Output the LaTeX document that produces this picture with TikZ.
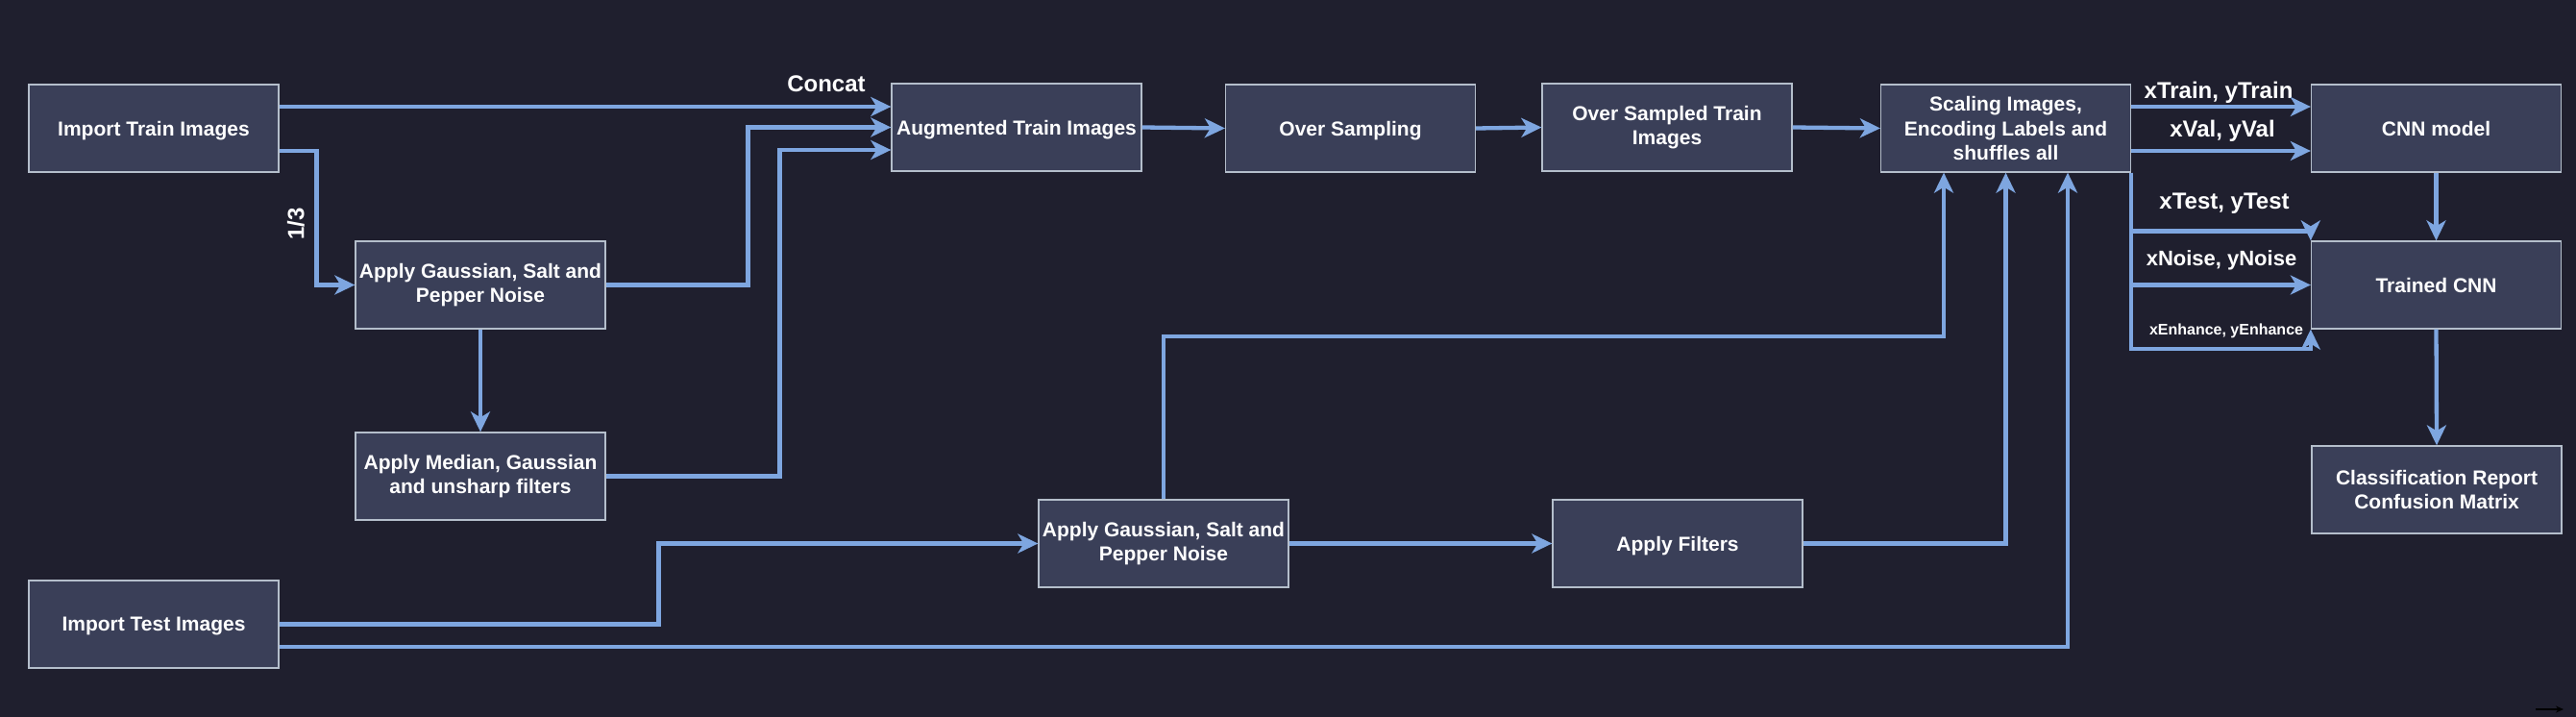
\documentclass[tikz,border=0pt]{standalone}
\usepackage{fontspec}
\setmainfont{Liberation Sans}
\usepackage{xcolor}
\definecolor{DiagBack}{HTML}{1F1F2E}
\definecolor{BoxFill}{HTML}{3A3F58}
\definecolor{BoxLine}{HTML}{B4BECB}
\definecolor{FlowBlue}{HTML}{7EA6E0}
\usepackage{tikz}
\usetikzlibrary{calc}
\usetikzlibrary{arrows.meta}

\begin{document}
\begin{tikzpicture}[x=1pt,y=-1pt,
	box/.style={draw=BoxLine, fill=BoxFill, line width=1.3pt, minimum width=260pt, minimum height=91pt, inner sep=0pt, align=center, text=white, font=\fontsize{21}{25.5}\selectfont\bfseries},
	flat/.style={text depth=0pt},
	flow/.style={draw=FlowBlue, line width=4.3pt, -{Stealth[length=21pt,width=20pt,inset=6pt]}},
	lbl/.style={text=white, inner sep=0pt, font=\fontsize{24}{28}\selectfont\bfseries}]
		\def\W{2681} % page width
		\def\H{746}  % page height
		\def\up{22.5}
		\def\dn{23.5}
		
		\fill[DiagBack] (0,0) rectangle (\W,\H);
		\useasboundingbox (0,0) rectangle (\W,\H);
		
		% train branch
		\node[box,flat] (train) at (160,133.5) {Import Train Images};
		\node[box] (noiseA) at (500,296.5) {Apply Gaussian, Salt and\\Pepper Noise};
		\node[box] (median) at (500,495.5) {Apply Median, Gaussian\\and unsharp filters};
		\node[box,flat] (aug) at (1058,132.5) {Augmented Train Images};
		\node[box,flat] (over) at (1405.5,133.5) {Over Sampling};
		\node[box] (overtrain) at (1735,132.5) {Over Sampled Train\\Images};
		\node[box] (scale) at (2087.5,133.5) {Scaling Images,\\Encoding Labels and\\shuffles all};
		
		% test branch
		\node[box,flat] (test) at (160,649.5) {Import Test Images};
		\node[box] (noiseB) at (1211,565.5) {Apply Gaussian, Salt and\\Pepper Noise};
		\node[box,flat] (filters) at (1746,565.5) {Apply Filters};
		
		% model
		\node[box] (cnn) at (2535.5,133.5) {CNN model};
		\node[box] (trained) at (2535.5,296.5) {Trained CNN};
		\node[box] (report) at (2536,509.5) {Classification Report\\Confusion Matrix};
		
		\node[lbl] (lblConcat) at (860,87) {Concat};
		\node[lbl, rotate=90] (lblThird) at (308,233) {1/3};
		\node[lbl] (lblTrain) at (2309,96) {xTrain, yTrain};
		\node[lbl] (lblVal) at (2313,136) {xVal, yVal};
		\node[lbl] (lblTest) at (2315,212) {xTest, yTest};
		\node[lbl, font=\fontsize{22}{26}\selectfont\bfseries] (lblNoise) at (2312,271) {xNoise, yNoise};
		\node[lbl, font=\fontsize{16}{19}\selectfont\bfseries] (lblEnhance) at (2317,344) {xEnhance, yEnhance};
		
		\draw[flow] ([yshift=\up pt]train.east) -- ([yshift=\up pt]train.east -| aug.west);
		\draw[flow] ([yshift=-\dn pt]train.east) -| ($(noiseA.west)+(-40,0)$) -- (noiseA.west);
		\draw[flow] (noiseA.east) -| ($(aug.west)+(-149,0)$) -- (aug.west);
		\draw[flow] (median.east) -| ($(aug.west)+(-116,\dn)$) -- ([yshift=-\dn pt]aug.west);
		\draw[flow] (noiseA.south) -- (median.north);
		
		\draw[flow] (aug.east) -- (over.west);
		\draw[flow] (over.east) -- (overtrain.west);
		\draw[flow] (overtrain.east) -- (scale.west);
		
		\draw[flow] (test.east) -| ($(noiseB.west)+(-395,0)$) -- (noiseB.west);
		\draw[flow] ([yshift=-\dn pt]test.east) -| ([xshift=64.5pt]scale.south);
		\draw[flow] (noiseB.east) -- (filters.west);
		\coordinate (bendB) at ($(scale.south)+(-64.5,170)$);
		\draw[flow] (noiseB.north) |- (bendB) -- ([xshift=-64.5pt]scale.south);
		\draw[flow] (filters.east) -| (scale.south);
		
		\draw[flow] ([yshift=\up pt]scale.east) -- ([yshift=\up pt]scale.east -| cnn.west);
		\draw[flow] ([yshift=-\dn pt]scale.east) -- ([yshift=-\dn pt]scale.east -| cnn.west);
		\draw[flow] (cnn.south) -- (trained.north);
		\draw[flow] (scale.south east) |- ($(trained.north west)+(0,-10)$) -- (trained.north west);
		\draw[flow] (scale.south east) |- (trained.west);
		\draw[flow] (scale.south east) |- ($(trained.south west)+(0,20)$) -- (trained.south west);
		\draw[flow] (trained.south) -- (report.north);
		
		\coordinate (strayA) at (2639,738);
		\coordinate (strayB) at (2668,738);
		\draw[black, line width=1.3pt, -{Stealth[length=8pt,width=7pt]}] (strayA) -- (strayB);
		
	\end{tikzpicture}
\end{document}
